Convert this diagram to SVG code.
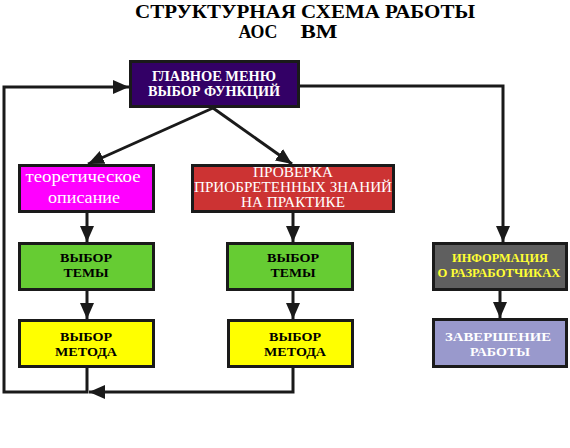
<svg xmlns="http://www.w3.org/2000/svg" width="570" height="448" viewBox="0 0 570 448">
<defs>
<marker id="ah" markerUnits="userSpaceOnUse" markerWidth="17" markerHeight="15" refX="16" refY="7" orient="auto" viewBox="0 0 17 15">
<path d="M0,0 L16,7 L0,14 Z" fill="#1a1a1a"/>
</marker>
<style>
.box{stroke:#1a1a1a;stroke-width:3}
.t{text-anchor:middle}
.b{font-weight:bold}
.con{fill:none;stroke:#1a1a1a;stroke-width:3;marker-end:url(#ah)}
</style>
</defs>
<rect width="570" height="448" fill="#ffffff"/>
<g font-family="'Liberation Serif', 'DejaVu Serif', serif">
<g id="title">
<text class="t b" x="305" y="18" font-size="19" textLength="340" lengthAdjust="spacingAndGlyphs">СТРУКТУРНАЯ СХЕМА РАБОТЫ</text>
<text class="t b" x="258" y="38" font-size="19" textLength="39" lengthAdjust="spacingAndGlyphs">АОС</text>
<text class="t b" x="319" y="38" font-size="19" textLength="37" lengthAdjust="spacingAndGlyphs">ВМ</text>
</g>
<g id="connectors">
<path class="con" d="M87,368 V392 H4 V87 H129"/>
<path class="con" d="M293,368 V392 H89"/>
<path class="con" d="M213,108 L88,164"/>
<path class="con" d="M213,108 L292,164"/>
<path class="con" d="M300,86 H503 V242"/>
<path class="con" d="M87,213 V242"/>
<path class="con" d="M87,291 V319"/>
<path class="con" d="M293,213 V242"/>
<path class="con" d="M293,291 V319"/>
<path class="con" d="M500,291 V318"/>
</g>
<g id="main">
<rect class="box" x="130.5" y="61.5" width="168" height="45" fill="#330066"/>
<text class="t b" x="214" y="81" font-size="14" fill="#ffffff" textLength="124" lengthAdjust="spacingAndGlyphs">ГЛАВНОЕ МЕНЮ</text>
<text class="t b" x="214" y="96" font-size="14" fill="#ffffff" textLength="132" lengthAdjust="spacingAndGlyphs">ВЫБОР ФУНКЦИЙ</text>
</g>
<g id="theory">
<rect class="box" x="19.5" y="165.5" width="134" height="46" fill="#ff00ff"/>
<text class="t" x="83" y="182" font-size="17" fill="#ffffff" textLength="115" lengthAdjust="spacingAndGlyphs">теоретическое</text>
<text class="t" x="84" y="203" font-size="17" fill="#ffffff" textLength="72" lengthAdjust="spacingAndGlyphs">описание</text>
</g>
<g id="practice">
<rect class="box" x="192.5" y="165.5" width="201" height="46" fill="#cc3333"/>
<text class="t" x="293" y="177" font-size="14" fill="#ffffff" textLength="80" lengthAdjust="spacingAndGlyphs">ПРОВЕРКА</text>
<text class="t" x="293" y="192" font-size="14" fill="#ffffff" textLength="198" lengthAdjust="spacingAndGlyphs">ПРИОБРЕТЕННЫХ ЗНАНИЙ</text>
<text class="t" x="293" y="207" font-size="14" fill="#ffffff" textLength="104" lengthAdjust="spacingAndGlyphs">НА ПРАКТИКЕ</text>
</g>
<g id="topic1">
<rect class="box" x="19.5" y="243.5" width="134" height="46" fill="#66cc33"/>
<text class="t b" x="86" y="262" font-size="12.5" textLength="52" lengthAdjust="spacingAndGlyphs">ВЫБОР</text>
<text class="t b" x="86" y="277" font-size="12.5" textLength="45" lengthAdjust="spacingAndGlyphs">ТЕМЫ</text>
</g>
<g id="method1">
<rect class="box" x="19.5" y="320.5" width="134" height="46" fill="#ffff00"/>
<text class="t b" x="86" y="341" font-size="12.5" textLength="52" lengthAdjust="spacingAndGlyphs">ВЫБОР</text>
<text class="t b" x="86" y="356" font-size="12.5" textLength="62" lengthAdjust="spacingAndGlyphs">МЕТОДА</text>
</g>
<g id="topic2">
<rect class="box" x="227.5" y="243.5" width="125" height="46" fill="#66cc33"/>
<text class="t b" x="293" y="262" font-size="12.5" textLength="52" lengthAdjust="spacingAndGlyphs">ВЫБОР</text>
<text class="t b" x="293" y="277" font-size="12.5" textLength="45" lengthAdjust="spacingAndGlyphs">ТЕМЫ</text>
</g>
<g id="method2">
<rect class="box" x="228.5" y="320.5" width="124" height="46" fill="#ffff00"/>
<text class="t b" x="295" y="341" font-size="12.5" textLength="52" lengthAdjust="spacingAndGlyphs">ВЫБОР</text>
<text class="t b" x="295" y="356" font-size="12.5" textLength="62" lengthAdjust="spacingAndGlyphs">МЕТОДА</text>
</g>
<g id="info">
<rect class="box" x="433.5" y="243.5" width="133" height="46" fill="#5f5f5f"/>
<text class="t b" x="500" y="262" font-size="12" fill="#ffff33" textLength="96" lengthAdjust="spacingAndGlyphs">ИНФОРМАЦИЯ</text>
<text class="t b" x="499" y="277" font-size="12" fill="#ffff33" textLength="123" lengthAdjust="spacingAndGlyphs">О РАЗРАБОТЧИКАХ</text>
</g>
<g id="finish">
<rect class="box" x="433.5" y="319.5" width="133" height="47" fill="#9999cc"/>
<text class="t b" x="498" y="341" font-size="13" fill="#ffffff" textLength="106" lengthAdjust="spacingAndGlyphs">ЗАВЕРШЕНИЕ</text>
<text class="t b" x="500" y="356" font-size="13" fill="#ffffff" textLength="60" lengthAdjust="spacingAndGlyphs">РАБОТЫ</text>
</g>
</g>
</svg>
